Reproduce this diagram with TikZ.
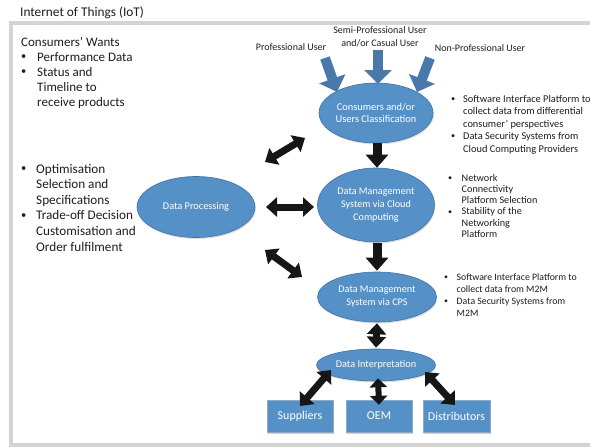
\documentclass[tikz,border=0pt]{standalone}
\usepackage{fontspec}
\setmainfont{Carlito}
\usetikzlibrary{arrows.meta,shapes.geometric,shadows,calc}
\definecolor{ellfill}{RGB}{85,145,199}
\definecolor{ellline}{RGB}{66,114,165}
\definecolor{userarrow}{RGB}{72,121,170}
\definecolor{framegray}{RGB}{212,212,212}
\definecolor{blkarr}{RGB}{22,22,22}
\definecolor{txtc}{RGB}{30,30,30}
\newcommand\smbul{\raisebox{0.08em}{\scalebox{0.8}{•}}}
\begin{document}
\begin{tikzpicture}[x=1pt,y=-1pt,
  ell/.style={ellipse, fill=ellfill, draw=ellline, line width=0.6pt, text=white, align=center, inner sep=0pt,
    drop shadow={opacity=0.25, shadow xshift=0.8pt, shadow yshift=-1.5pt}},
  boxnode/.style={rectangle, fill=ellfill, draw=ellline!60, line width=0.4pt, text=white, inner sep=0pt,
    minimum height=32pt, font=\fontsize{12}{14}\selectfont,
    drop shadow={opacity=0.35, shadow xshift=1pt, shadow yshift=-1.5pt}},
  lbl/.style={text=txtc, inner sep=0pt, font=\fontsize{10}{13}\selectfont},
  bullets/.style={text=txtc, inner sep=0pt, anchor=base west},
  dblarr/.style={draw=blkarr, line width=7pt, {Triangle[length=11pt,width=19pt]}-{Triangle[length=11pt,width=19pt]}},
  sglarr/.style={draw=blkarr, line width=9pt, -{Triangle[length=13pt,width=22pt]}},
  userarr/.style={draw=userarrow, line width=10pt, -{Triangle[length=14pt,width=27pt]}}
]
\useasboundingbox (0,0) rectangle (590,447);
\fill[white] (0,0) rectangle (590,447);

% frame and title
\draw[framegray, line width=4pt] (600,22.5) -- (10.5,22.5) -- (10.5,444.5) -- (600,444.5);
\node[anchor=base west, inner sep=0pt, text=txtc, font=\fontsize{13.3}{15}\selectfont] (title) at (20,16.5) {Internet of Things (IoT)};

% left text blocks
\node[bullets, font=\fontsize{13}{15}\selectfont] (wants) at (21,46) {\begin{tabular}[t]{@{}p{16pt}@{}l@{}}
\multicolumn{2}{@{}l@{}}{Consumers’ Wants}\\
\smbul & Performance Data\\
\smbul & Status and\\
 & Timeline to\\
 & receive products
\end{tabular}};
\node[bullets, font=\fontsize{13.2}{15.6}\selectfont] (optim) at (21,173) {\begin{tabular}[t]{@{}p{15pt}@{}l@{}}
\smbul & Optimisation\\
 & Selection and\\
 & Specifications\\
\smbul & Trade-off Decision\\
 & Customisation and\\
 & Order fulfilment
\end{tabular}};

% right text blocks
\node[bullets, font=\fontsize{10.4}{12.6}\selectfont] (rcons) at (451,102) {\begin{tabular}[t]{@{}p{12pt}@{}l@{}}
\smbul & Software Interface Platform to\\
 & collect data from differential\\
 & consumer’ perspectives\\
\smbul & Data Security Systems from\\
 & Cloud Computing Providers
\end{tabular}};
\node[bullets, font=\fontsize{10.2}{11.3}\selectfont] (rcloud) at (448,181) {\begin{tabular}[t]{@{}p{13.5pt}@{}l@{}}
\smbul & Network\\
 & Connectivity\\
 & Platform Selection\\
\smbul & Stability of the\\
 & Networking\\
 & Platform
\end{tabular}};
\node[bullets, font=\fontsize{9.8}{12}\selectfont] (rcps) at (444,280) {\begin{tabular}[t]{@{}p{12.5pt}@{}l@{}}
\smbul & Software Interface Platform to\\
 & collect data from M2M\\
\smbul & Data Security Systems from\\
 & M2M
\end{tabular}};

% user labels
\node[lbl, anchor=base] (pro) at (291,50) {Professional User};
\node[lbl, anchor=base] (semi) at (380,34) {\begin{tabular}[t]{@{}c@{}}Semi-Professional User\\and/or Casual User\end{tabular}};
\node[lbl, anchor=base] (nonpro) at (480,52) {Non-Professional User};

% ellipses
\node[ell, minimum width=114pt, minimum height=60pt, font=\fontsize{10.4}{11.5}\selectfont] (cons) at (376,113) {Consumers and/or\\Users Classification};
\node[ell, minimum width=117pt, minimum height=74pt, font=\fontsize{10.2}{13}\selectfont] (cloud) at (376,205) {Data Management\\System via Cloud\\Computing};
\node[ell, minimum width=119pt, minimum height=50pt, font=\fontsize{10.2}{13}\selectfont] (cps) at (377,297) {Data Management\\System via CPS};
\node[ell, minimum width=119pt, minimum height=32pt, font=\fontsize{10.3}{12}\selectfont] (interp) at (376,365) {Data Interpretation};
\node[ell, minimum width=118pt, minimum height=61pt, font=\fontsize{10.3}{12}\selectfont] (dp) at (196,207) {Data Processing};

% boxes
\node[boxnode, minimum width=66pt] (sup) at (300,416) {Suppliers};
\node[boxnode, minimum width=66pt] (oem) at (379,416) {OEM};
\node[boxnode, minimum width=67pt] (dist) at (456.5,416) {Distributors};

% user arrows
\coordinate (proS) at (325,58);  \coordinate (proE) at (337,92);
\coordinate (semiS) at (378,50); \coordinate (semiE) at (378,84);
\coordinate (nonS) at (430,58);  \coordinate (nonE) at (417,92);
\draw[userarr] (proS) -- (proE);
\draw[userarr] (semiS) -- (semiE);
\draw[userarr] (nonS) -- (nonE);

% black arrows
\draw[sglarr] ($(cons.south)+(1,0)$) -- ($(cloud.north)+(1,0)$);
\draw[sglarr] ($(cloud.south)+(1,1)$) -- ($(cps.north)+(0,-1)$);
\draw[dblarr] ($(cps.south)+(0,1)$) -- ($(interp.north)+(0,-1)$);
\draw[draw=blkarr, line width=6pt, {Triangle[length=9pt,width=17pt]}-{Triangle[length=9pt,width=17pt]}] ($(interp.south)+(2,-3)$) -- ($(oem.north)+(0,5)$);
\coordinate (supA) at (331,370); \coordinate (supB) at (300,406);
\coordinate (disA) at (425,372); \coordinate (disB) at (455,405);
\draw[dblarr] (supA) -- (supB);
\draw[dblarr] (disA) -- (disB);
\coordinate (luA) at (265,162); \coordinate (luB) at (305,138);
\coordinate (lmA) at (266,207); \coordinate (lmB) at (314,207);
\coordinate (llA) at (265,250); \coordinate (llB) at (302,277);
\draw[dblarr] (luA) -- (luB);
\draw[dblarr] (lmA) -- (lmB);
\draw[dblarr] (llA) -- (llB);
\end{tikzpicture}
\end{document}
